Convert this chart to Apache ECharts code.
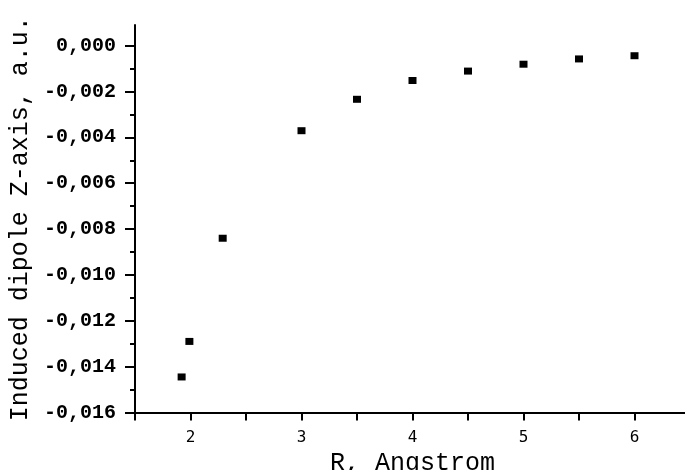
<!DOCTYPE html>
<html>
<head>
<meta charset="utf-8">
<script src="https://cdn.jsdelivr.net/npm/echarts@6/dist/echarts.min.js"></script>
<style>html,body{margin:0;padding:0;background:#fff;}#c{width:685px;height:470px;}</style>
</head>
<body>
<div id="c"></div>
<script>
const xTitle = 'R, Angstrom';
const yTitle = 'Induced dipole Z-axis, a.u.';
const rValues = [1.92, 1.99, 2.29, 3.0, 3.5, 4.0, 4.5, 5.0, 5.5, 6.0];
const dipoleValues = [-0.01445, -0.0129, -0.0084, -0.00371, -0.00234, -0.00152, -0.00111, -0.00081, -0.00058, -0.00044];
const xTickValues = [1.5, 2, 2.5, 3, 3.5, 4, 4.5, 5, 5.5, 6];
const xLabelValues = [2, 3, 4, 5, 6];
const yMajorTicks = [-0.016, -0.014, -0.012, -0.010, -0.008, -0.006, -0.004, -0.002, 0];
const yMinorTicks = [-0.015, -0.013, -0.011, -0.009, -0.007, -0.005, -0.003, -0.001];

const points = rValues.map((r, i) => [r, dipoleValues[i]]);
const fmtY = v => {
  if (Math.abs(v) < 1e-9) return '0,000';
  return (v < 0 ? '-' : '') + Math.abs(v).toFixed(3).replace('.', ',');
};
const yMin = -0.016, yMax = 0.0009;
const chart = echarts.init(document.getElementById('c'), null, {renderer: 'canvas'});
chart.setOption({
  backgroundColor: '#fff',
  animation: false,
  grid: {left: 135, right: -5, top: 25, bottom: 57.5, containLabel: false, outerBoundsMode: 'none'},
  xAxis: {
    type: 'value', min: 1.5, max: 6.5,
    name: xTitle, nameLocation: 'middle', nameGap: 38,
    nameTextStyle: {fontFamily: 'Liberation Mono', fontSize: 25, color: '#000'},
    axisLine: {show: true, onZero: false, lineStyle: {color: '#000', width: 2}},
    axisTick: {show: true, length: 8, customValues: xTickValues, lineStyle: {color: '#000', width: 2}},
    axisLabel: {
      margin: 17, color: '#000', fontFamily: 'DejaVu Sans Mono', fontSize: 16,
      customValues: xLabelValues,
      formatter: v => String(Math.round(v))
    },
    splitLine: {show: false}
  },
  yAxis: [{
    type: 'value', min: yMin, max: yMax,
    name: yTitle, nameLocation: 'middle', nameGap: 98, nameRotate: 90,
    nameTextStyle: {fontFamily: 'Liberation Mono', fontSize: 25, color: '#000'},
    axisLine: {show: true, onZero: false, lineStyle: {color: '#000', width: 2}},
    axisTick: {show: true, length: 10, customValues: yMajorTicks, lineStyle: {color: '#000', width: 2}},
    axisLabel: {
      margin: 19, color: '#000', fontFamily: 'Liberation Mono', fontWeight: 'bold', fontSize: 20,
      customValues: yMajorTicks, formatter: fmtY
    },
    splitLine: {show: false}
  }, {
    type: 'value', min: yMin, max: yMax, position: 'left', offset: 0,
    axisLine: {show: false},
    axisTick: {show: true, length: 5, customValues: yMinorTicks, lineStyle: {color: '#000', width: 2}},
    axisLabel: {show: false},
    splitLine: {show: false}
  }],
  series: [{
    type: 'scatter',
    data: points,
    symbol: 'rect',
    symbolSize: [8, 7],
    itemStyle: {color: '#000', opacity: 1}
  }]
});
</script>
</body>
</html>
